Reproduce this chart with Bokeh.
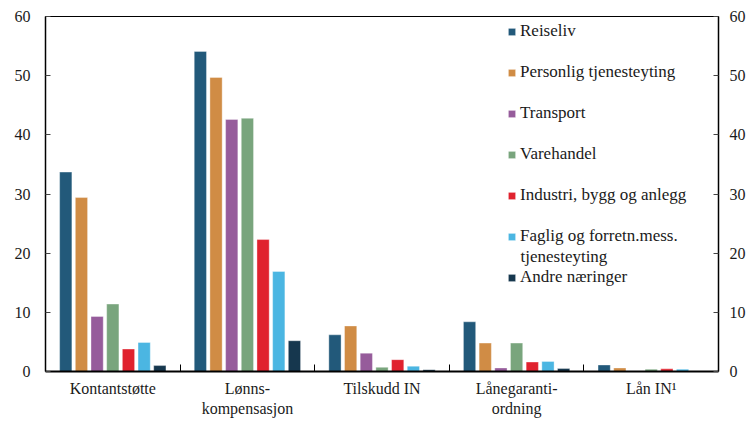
from bokeh.plotting import figure
from bokeh.models import (ColumnDataSource, FixedTicker, LinearAxis, Legend,
                          LegendItem, Label, Range1d)
from bokeh.transform import dodge
from bokeh.embed import file_html
from bokeh.resources import INLINE

# ---- data ----
categories = ["Kontantstøtte", "Lønns-\nkompensasjon", "Tilskudd IN",
              "Lånegaranti-\nordning", "Lån IN¹"]
series_names = ["Reiseliv", "Personlig tjenesteyting", "Transport", "Varehandel",
                "Industri, bygg og anlegg", "Faglig og forretn.mess.",
                "Andre næringer"]
reiseliv = [33.7, 54.1, 6.2, 8.4, 1.1]
personlig = [29.4, 49.7, 7.7, 4.8, 0.6]
transport = [9.3, 42.6, 3.1, 0.6, 0.0]
varehandel = [11.4, 42.8, 0.7, 4.8, 0.4]
industri = [3.8, 22.3, 2.0, 1.6, 0.45]
faglig = [4.9, 16.9, 0.9, 1.7, 0.4]
andre = [1.0, 5.2, 0.3, 0.5, 0.0]
y_ticks = [0, 10, 20, 30, 40, 50, 60]

colors = ["#22597a", "#d08c45", "#965c9b", "#79a57d", "#e0222e", "#4bb6e2", "#16374e"]
series = [reiseliv, personlig, transport, varehandel, industri, faglig, andre]
keys = ["s0", "s1", "s2", "s3", "s4", "s5", "s6"]

centers = [i + 0.5 for i in range(len(categories))]
data = {"x": centers}
for k, s in zip(keys, series):
    data[k] = s
source = ColumnDataSource(data)

FONT = "Liberation Serif"
TXT = "#1a1a1a"

p = figure(width=750, height=419, x_range=Range1d(0, 5), y_range=Range1d(0, 60),
           output_backend="svg", toolbar_location=None,
           min_border_left=45, min_border_right=32, min_border_top=16,
           min_border_bottom=48)
p.xgrid.visible = False
p.ygrid.visible = False
p.outline_line_color = "black"
p.outline_line_width = 1
p.background_fill_color = "white"
p.border_fill_color = "white"

pitch = 0.1165
bw = 0.091
renderers = []
for i, (k, c) in enumerate(zip(keys, colors)):
    r = p.vbar(x=dodge("x", (i - 3) * pitch), top=k, width=bw, source=source,
               fill_color=c, line_color="white", line_alpha=0.6, line_width=0.6)
    renderers.append(r)

# x axis: labels at centers, ticks (minor) at boundaries
xa = p.xaxis[0]
xa.ticker = FixedTicker(ticks=centers, minor_ticks=[1, 2, 3, 4])
xa.major_label_overrides = {c: lab for c, lab in zip(centers, categories)}
xa.major_tick_in = 0
xa.major_tick_out = 0
xa.minor_tick_in = 7
xa.minor_tick_out = 0
xa.minor_tick_line_color = "black"
xa.axis_line_color = "black"
xa.axis_line_width = 2
xa.major_label_text_font = FONT
xa.major_label_text_font_size = "16px"
xa.major_label_text_color = TXT
xa.major_label_standoff = 8

# y axes both sides
def style_y(ax, standoff):
    ax.ticker = FixedTicker(ticks=y_ticks)
    ax.major_tick_in = 5
    ax.major_tick_out = 0
    ax.minor_tick_in = 0
    ax.minor_tick_out = 0
    ax.major_tick_line_color = "#444444"
    ax.axis_line_color = "black"
    ax.axis_line_width = 1.5
    ax.major_label_text_font = FONT
    ax.major_label_text_font_size = "16px"
    ax.major_label_text_color = TXT
    ax.major_label_standoff = standoff

style_y(p.yaxis[0], 15)
ry = LinearAxis()
style_y(ry, 11)
p.add_layout(ry, "right")

# legend
items = [LegendItem(label=n, renderers=[r]) for n, r in zip(series_names, renderers)]
leg = Legend(items=items, location=(462, 84), orientation="vertical",
             glyph_width=9, glyph_height=9, label_standoff=4,
             label_height=20, spacing=21, padding=0, margin=0,
             border_line_color=None, background_fill_alpha=0,
             label_text_font=FONT, label_text_font_size="17px",
             label_text_color=TXT)
p.add_layout(leg, "center")

p.add_layout(Label(x=3.529, y=19.4, text="tjenesteyting", text_font=FONT,
                   text_font_size="17px", text_color=TXT,
                   text_baseline="middle"))

open("out.html", "w").write(file_html(p, INLINE))
